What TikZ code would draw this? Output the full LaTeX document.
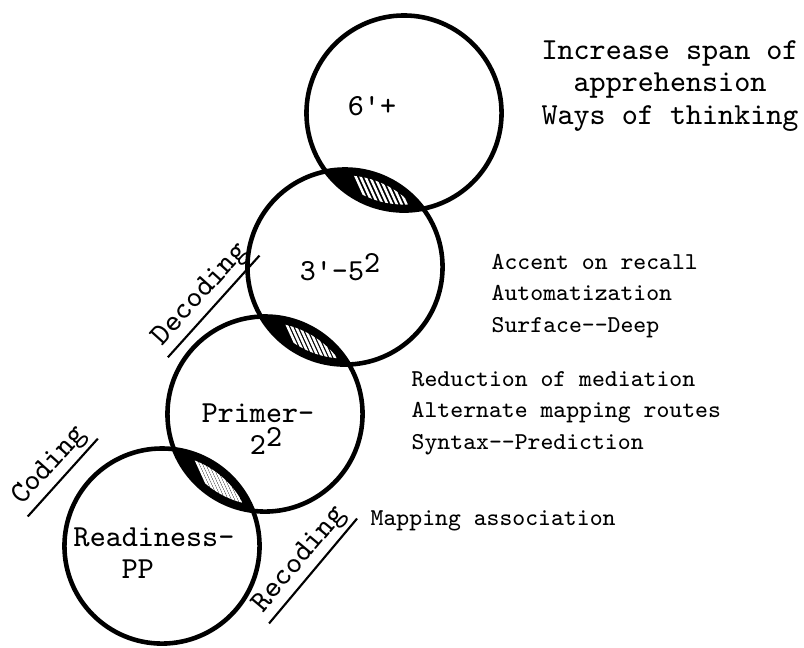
\documentclass[tikz,border=0pt]{standalone}
\usetikzlibrary{calc}
\newcommand{\ringR}{0.975cm}
\newcommand{\bigtype}{\fontsize{8.7}{9.3}\selectfont\ttfamily}
\newcommand{\smalltype}{\fontsize{6.9}{8.9}\selectfont\ttfamily}

% overlap of two rings: black lens, white hatching on its right half
\newcommand{\hatchlens}[2]{%
  \coordinate (m) at ($(#1.center)!0.5!(#2.center)$);
  \begin{scope}
    \clip (#1.center) circle [radius=\ringR];
    \fill (#2.center) circle [radius=\ringR];
    \clip (#1.center) circle [radius=\ringR-0.06cm];
    \clip (#2.center) circle [radius=\ringR-0.06cm];
    \foreach \t in {-0.2,-0.125,...,0.4}
      \draw[hatch] ($(m)!\t!-90:(#1.center)$) ++(-10,-22) -- ++(20,44);
  \end{scope}}

\begin{document}
\begin{tikzpicture}[x=0.01cm,y=-0.01cm,
  ring/.style={circle,draw,line width=1.3pt,minimum size=2*\ringR,inner sep=0pt},
  hatch/.style={white,line width=0.7pt},
  tag/.style={inner sep=0pt,font=\bigtype},
  note/.style={inner sep=0pt,font=\smalltype,align=left,anchor=west},
  slant/.style={inner sep=1pt,font=\bigtype},
  underl/.style={line width=0.6pt}]
\useasboundingbox (0,0) rectangle (804,647);

% the four stages, top to bottom
\node[ring] (six) at (404,113) {};
\node[ring] (three) at (345,267) {};
\node[ring] (primer) at (265,414) {};
\node[ring] (ready) at (162,546) {};

\hatchlens{six}{three}
\hatchlens{three}{primer}
\hatchlens{primer}{ready}

% grade labels
\node[tag] (l6) at (372,106) {6'+};
\node[tag] (l3) at (340,267) {3'-5\raisebox{0.28em}{2}};
\node[tag,align=left] (lp) at (258,429) {Primer-\\\hphantom{000}2\raisebox{0.28em}{2}};
\node[tag,align=left] (lr) at (154,553) {Readiness-\\\hphantom{000}PP};

% notes on the right
\node[tag,align=center] (n6) at (670,86) {Increase span of\\apprehension\\Ways of thinking};
\node[note] (n3) at (491,296) {Accent on recall\\Automatization\\Surface--Deep};
\node[note] (np) at (411,413) {Reduction of mediation\\Alternate mapping routes\\Syntax--Prediction};
\node[note] (nr) at (370,521) {Mapping association};

% slanted stage names
\node[slant,rotate=48] (dec) at (201,295) {Decoding};
\draw[underl] (dec.south west) -- (dec.south east);
\node[slant,rotate=48] (cod) at (50,466) {Coding};
\draw[underl] (cod.south west) -- (cod.south east);
\node[slant,rotate=50] (rec) at (300,560) {Recoding};
\draw[underl] (rec.south west) -- (rec.south east);
\end{tikzpicture}
\end{document}
